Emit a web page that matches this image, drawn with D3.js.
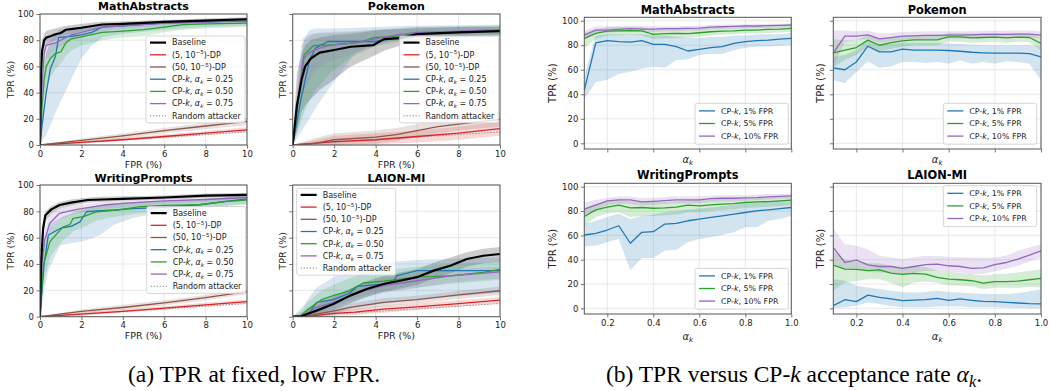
<!DOCTYPE html>
<html>
<head>
<meta charset="utf-8">
<script src="https://cdn.jsdelivr.net/npm/d3@7"></script>
<style>
  body { margin: 0; background: #fff; }
  svg { display: block; font-family: "DejaVu Sans", sans-serif; }
</style>
</head>
<body>
<svg id="chart" width="1050" height="391"></svg>
<script>

// ---------- data: (a) ROC curves, rows are [FPR, TPR, lower, upper] ----------
const fprTicks = [0, 2, 4, 6, 8, 10];
const tprTicks = [0, 20, 40, 60, 80, 100];

const mathBase = [[0,0,0,0],[0.05,55,40,66],[0.1,72,62,80],[0.2,80,72,85],[0.3,82,76,87],[0.5,83,78,88],[0.75,84.5,80,89],[1,85.5,82,90],[1.25,88,84,91],[1.5,88.5,85,91.5],[2,89.5,87,92.5],[3,92,90,94],[4,92.5,91,94.5],[6,94,92.5,95.5],[8,95,93.5,96.5],[10,96,94.5,97.5]];
const mathDp5 = [[0,0,0,0],[2,2,1,3],[4,4,3,5.5],[6,6.5,5,8],[8,9,7.5,10.5],[10,11.5,10,13.5]];
const mathDp50 = [[0,0,0,0],[2,3.5,2,5],[4,7,5,9],[6,11,9,13],[8,14.5,12,17],[10,18,15,21]];
const mathCp25 = [[0,0,0,0],[0.1,15,3,40],[0.3,40,8,70],[0.5,58,15,80],[0.75,68,25,85],[0.9,82,30,88],[1.5,83,50,89],[2,84,66,90],[2.5,86,76,91],[3,90,82,92],[4,91,85,93],[6,93,88,95],[8,94,90,96],[10,94.5,91,97]];
const mathCp50 = [[0,0,0,0],[0.1,30,15,50],[0.2,50,35,65],[0.3,60,45,72],[0.5,66,52,77],[0.75,70,58,79],[1,71,62,81],[1.25,78,68,84],[1.5,81,72,86],[2,82.5,76,88],[3,86,80,90],[4,87,82,91],[5,88,83,92],[6,90,86,93],[7,92,88,94],[8,92.5,89,95],[10,93,90,96]];
const mathCp75 = [[0,0,0,0],[0.1,45,30,60],[0.2,70,55,78],[0.3,76,65,82],[0.5,77,68,84],[0.75,78,72,85],[1,80,75,87],[1.5,84,80,88],[2,86,83,90],[3,90,87,92],[4,91,89,93],[6,93,91,95],[8,94,92,96],[10,95,93,97]];

const pokeBase = [[0,0,0,0],[0.2,30,10,55],[0.43,50,25,70],[0.6,60,30,76],[0.87,66,35,80],[1.3,70.5,42,82],[2,72.5,50,84],[2.8,75,60,85],[3.9,76.3,68,87],[4.4,80.8,72,88],[5.2,81.6,76,88.5],[6,84.6,80,89],[8,86,82,90],[10,87,83,90]];
const pokeDp5 = [[0,0,0,0],[2,2.5,0,7],[4,4,0.5,9],[6,6.5,2,11],[8,9,4,14],[10,12.5,7,18]];
const pokeDp50 = [[0,0,0,0],[1,1,0,5],[2,4,0,9],[4,6,1,11],[5,8,3,13],[6,11,6,16],[7,14,9,19],[8,16,11,21],[10,19.5,14,25]];
const pokeCp25 = [[0,0,0,0],[0.4,35,10,75],[0.8,64,20,88],[1.1,74,28,89],[1.7,79,42,89],[3,79,70,89.5],[4,79,78,90],[4.7,81,79,90.5],[5.5,84,81,91],[6,85,82,91],[8,86.5,83,91.5],[10,87,84,92]];
const pokeCp50 = [[0,0,0,0],[0.55,69,25,80],[1,75.8,40,85],[1.8,76.5,55,85.5],[2.8,77.5,67,86],[3.25,78.3,70,86.5],[3.9,82,75,88],[5.2,83.3,79,89],[6,85,82,90],[8,86.5,83,90.5],[10,87,84,91]];
const pokeCp75 = [[0,0,0,0],[0.5,65,40,82],[0.75,70,48,84],[1,72,55,85],[1.5,75,62,86],[2,76.5,65,86.5],[3,78,70,87],[4,81,76,88],[5,84,80,89],[6,86,82,90],[8,87,83,90.5],[10,88,85,91]];

const writeBase = [[0,0,0,0],[0.05,40,25,55],[0.15,67,58,74],[0.26,77,72,80],[0.55,81.5,78,84],[0.95,84.8,82,87],[1.5,86.6,84,89],[2.3,88.6,86.5,90.5],[3,89,87,91],[4,89.5,88,91.5],[6,90.5,89,92],[8,92,90.5,93.5],[10,92.5,91,94]];
const writeDp5 = [[0,0,0,0],[2,2,1,3],[4,4,3,5.5],[6,6.5,5,8],[8,9,7.5,10.5],[10,11.5,10,13]];
const writeDp50 = [[0,0,0,0],[2,4,2.5,5.5],[4,7,5,9],[6,10.5,8.5,12.5],[8,14.5,12.5,16.5],[10,19,17,21]];
const writeCp25 = [[0,0,0,0],[0.2,40,20,55],[0.4,62,35,70],[0.97,67,54,75],[1.53,68.8,56,78],[1.93,72,57,80],[2.25,79.7,58,82],[2.9,80.5,62,85],[3.6,81,70,86],[4.5,82,75,87],[5.5,82.6,78,87.5],[7.7,85,82,89],[10,89.5,86,92]];
const writeCp50 = [[0,0,0,0],[0.16,39,25,50],[0.48,57,45,66],[1.1,68,58,76],[1.45,70,62,78],[1.6,74.7,65,80],[2.1,76,68,82],[2.74,79.7,73,84.5],[3.7,81,76,86],[4.83,83.5,78.5,87.5],[6,84.5,80,88],[7.7,85,81.5,89],[9,87.5,84,90.5],[10,88.6,85,91]];
const writeCp75 = [[0,0,0,0],[0.1,40,30,52],[0.22,58,50,66],[0.47,71,65,77],[0.95,78.5,74,82],[1.5,80.6,77,84],[2,82,79,85],[3.1,84.8,82,87],[4,86,83,88],[6,88,86,90],[8,89,87,91],[10,90.5,88.5,92]];

const laionBase = [[0,0,0,0],[0.35,0,0,1],[0.6,1.5,0,4],[1.15,4.6,1,9],[1.96,9.6,5,15],[2.77,16,10,21],[3.57,21,15,27],[4.38,24.8,19,31],[5.18,27.3,21.5,33.5],[6,30,24,36],[6.8,35,29,41],[7.6,38.7,33,45],[8.4,43.8,38,49],[9.2,46.3,40.5,51.5],[10,47.6,41.5,53]];
const laionDp5 = [[0,0,0,0],[0.8,0,0,1],[1.15,1,0,2.5],[2,2.5,0.5,4.5],[3,3.5,1.5,6],[4.38,5.8,3,8.5],[6,7.5,5,10],[8,10,7.5,12.5],[10,12.6,10,15]];
const laionDp50 = [[0,0,0,0],[0.5,0,0,1],[1.15,2,0.5,4],[2,4.5,2,7],[2.77,7,4.5,10],[4.38,10.9,8,14],[6,13,10,16],[8,16.5,13.5,19.5],[10,19.7,16.5,23]];
const laionCp25 = [[0,0,0,0],[0.5,1,0,8],[0.8,3,0,15],[1.15,10.9,0,22],[1.96,13,2,30],[2.77,18,6,35],[3.1,23,7,37],[4.38,24.8,10,40.7],[4.9,27.3,11,42],[5,31,11.5,42],[6,35,13,43],[9.2,35,17,44.5],[10,35,18,45]];
const laionCp50 = [[0,0,0,0],[0.4,1,0,4],[0.66,4.6,0,10],[1.4,13,4,20],[2.1,16.8,9,25],[2.7,19.4,12,29],[3.4,25.6,16,33],[4.4,27,19,35],[6,30,22,38],[7.6,31,25,40],[9.2,33.7,27,41],[10,36,28,42]];
const laionCp75 = [[0,0,0,0],[0.5,1,0,4],[1.15,7,3,11],[2,11,7,16],[2.77,16,11,21],[3.5,20,15,25],[4.38,23.6,18,29],[6,27.3,22,33],[7.6,31,26,36],[10,34,29,38]];

const randomAttacker = [[0, 0], [10, 10]];

// ---------- data: (b) TPR vs alpha_k, rows are [TPR, lower, upper] ----------
const alphaGrid = [0.1,0.15,0.2,0.25,0.3,0.35,0.4,0.45,0.5,0.55,0.6,0.65,0.7,0.75,0.8,0.85,0.9,0.95,1.0];
const alphaTicks = [0.2, 0.4, 0.6, 0.8, 1.0];

const mathB1 = [[43.5,36,55],[82,50,88],[83.7,51.6,89],[82.9,56.5,89],[82.6,58.4,89],[83.7,61,89],[80.7,62.5,88],[80.7,61.7,88],[78.8,68,87],[75.3,68.5,86],[76.6,72,86],[78,72.8,87],[78.8,72.8,87],[81.5,76,88],[82.9,78,88],[83.7,78.8,89],[84.2,79,89],[85,79.5,89],[85.6,80,90]];
const mathB5 = [[85.6,78,90],[89.7,85,93],[91.6,88,94.5],[91.8,88,95],[92,88.5,95],[91.8,88,95],[88.9,85,92.5],[89.4,85.5,93],[89.7,86,93],[89.4,86,93],[90.2,87,93.5],[91,88,94],[91.6,88.5,94.5],[91.8,89,94.5],[92.4,89.5,95],[92.4,89.5,95],[93,90,95.5],[93.2,90.5,95.5],[93.8,91,96]];
const mathB10 = [[88.3,84,92],[92.4,90,95],[92.4,90.5,95.5],[93,91,95.5],[93.5,91.5,95.5],[93.2,91,95.5],[93.2,91,95.5],[93.5,91.5,95.5],[93.5,91.5,95.5],[93.8,92,95.8],[94,92,96],[94.8,93,96.5],[95.1,93.5,96.8],[95.4,93.5,97],[95.7,94,97.2],[95.7,94,97.2],[96,94.5,97.5],[96.2,94.5,97.6],[96.5,95,97.8]];

const pokeB1 = [[61.5,51.4,70.5],[60,49.2,72],[66.4,58.2,76],[79.2,67,84],[74.6,61.5,81],[74.6,62.8,81.4],[76.8,66.4,82],[76,66.4,82],[76,65.6,82],[76,66.4,82],[75.7,65,81.5],[75.1,67.8,81],[74.3,65,80.5],[73.8,66.4,80],[73.5,65,80],[73.5,67,80],[73.5,66.4,80],[73.2,65,80],[70.5,51.4,78.7]];
const pokeB5 = [[73.8,62,85],[76,68,84],[78.1,72,84],[84.2,79,88.5],[80,75,85],[82.2,77,86.5],[83.6,79,87.5],[84.4,80,88],[84.4,80,88],[84.4,80,88],[86.9,83,90],[86.9,83,90],[86,82,89.5],[86.3,82.5,89.5],[86.6,83,90],[86,82,89.5],[86.6,83,90],[86.3,82.5,89.5],[81.4,76,86]];
const pokeB10 = [[73.8,62,92],[87.4,83,92],[87.4,84,91.5],[88.5,85,92],[85.2,82,89.5],[86.3,83,90],[87.4,84,91],[87.7,84.5,91],[88,85,91.5],[88,85,91.5],[88.3,85.5,91.5],[88.3,85.5,91.5],[88.5,85.5,91.5],[88.8,86,91.8],[88.8,86,91.8],[88.8,86,91.8],[89,86.5,92],[89,86.5,92],[88.3,85.5,91.5]];

const writeB1 = [[60.3,50.8,69.3],[61.7,51.6,72],[64.4,54.3,75],[67.9,57,78],[53.5,31.3,73.4],[62.5,41.3,76],[63,41.3,77],[69.3,47.6,79],[69.8,48,80],[72,54.3,81],[73.4,57,82],[74.7,58.4,83],[76,60.3,84],[77.4,62.5,85],[78.8,66.6,86],[80.2,66.6,87],[81,72,88],[82,73.4,88],[82.9,76,88]];
const writeB5 = [[75.5,68,82],[81,75,86],[83.2,78,88],[84.8,79,89],[82.6,75,88],[82.9,76,88],[82.3,76,87.5],[82.6,76.5,87.5],[83.2,77,88],[84.8,79,89],[84.2,79,89],[85,80,89.5],[85.6,81,90],[86.1,81.5,90],[87,82.5,90.5],[87.5,83,91],[87.8,83.5,91],[88.3,84,91.5],[88.9,85,92]];
const writeB10 = [[81.5,76,87],[84.8,81,89],[88.3,85,91],[89.1,86,92],[89.1,86,92],[87.5,84.5,90.5],[88,85,91],[88.6,86,91.5],[89.1,86.5,92],[89.1,86.5,92],[89.1,86.5,92],[90.2,87.5,92.5],[90.5,88,93],[90.5,88,93],[90.8,88.5,93],[91,89,93.5],[91.6,89.5,94],[92.1,90,94],[92.4,90.5,94.5]];

const laionB1 = [[2.2,0,24],[7.1,0.8,22.7],[5.5,2.2,18.6],[10.9,4.9,17.2],[9,3.5,16],[7.7,2,14.5],[6.3,0.8,13.5],[6.8,1,13],[7.1,1,13.5],[8.2,1.5,14.5],[6.6,1.5,13.5],[7.7,1.5,13],[6.6,0.8,12.5],[5.7,0.8,11.7],[5.5,0.8,11.7],[4.9,0.5,11.7],[4.4,0.3,12.5],[3.8,0,14],[3.6,0,15.8]];
const laionB5 = [[35.5,14.5,47],[32.2,21.3,40],[32,22.7,38],[31,24,37],[31.7,24,37],[29,21,35],[27.9,17.2,34],[28.7,21.3,34.5],[28.1,22,34],[25.4,21,31],[24,19,30],[23.5,18.5,29],[22.7,18,28],[20.8,16,27],[21.9,17,28],[21.9,17,28.5],[22.4,17,29.5],[23.5,17.5,31],[24.6,17.2,32.2]];
const laionB10 = [[50,36.3,65.6],[37.7,32.2,52.7],[39.6,33,51.4],[35.8,30,48.6],[34.4,29.5,43.2],[34.4,29.5,42],[32.8,28,40.4],[34.4,29.5,42],[36,31,43.2],[36.3,31,43],[35,30,42.5],[34.4,29.5,42],[32.8,28,41.8],[33.3,28.5,41.8],[36,30.5,41.8],[37.7,32.5,43.5],[40.4,35,47.3],[43.7,38.5,50],[47.3,41.8,52.7]];

// ---------- labels ----------
const rocLegend = [
    [{t: "Baseline"}],
    [{t: "(5, 10"}, {t: "\u22125", sup: true}, {t: ")-DP"}],
    [{t: "(50, 10"}, {t: "\u22125", sup: true}, {t: ")-DP"}],
    [{t: "CP-"}, {t: "k", it: true}, {t: ", "}, {t: "\u03b1", it: true}, {t: "k", it: true, sub: true}, {t: " = 0.25"}],
    [{t: "CP-"}, {t: "k", it: true}, {t: ", "}, {t: "\u03b1", it: true}, {t: "k", it: true, sub: true}, {t: " = 0.50"}],
    [{t: "CP-"}, {t: "k", it: true}, {t: ", "}, {t: "\u03b1", it: true}, {t: "k", it: true, sub: true}, {t: " = 0.75"}],
    [{t: "Random attacker"}]
];
const alphaLegend = [
    [{t: "CP-"}, {t: "k", it: true}, {t: ", 1% FPR"}],
    [{t: "CP-"}, {t: "k", it: true}, {t: ", 5% FPR"}],
    [{t: "CP-"}, {t: "k", it: true}, {t: ", 10% FPR"}]
];
const alphaLabel = [{t: "\u03b1", it: true}, {t: "k", it: true, sub: true}];

const rocColors = ["#000000", "#d62728", "#8c564b", "#1f77b4", "#2ca02c", "#9467bd", "#7f7f7f"];
const alphaColors = ["#1f77b4", "#2ca02c", "#9467bd"];

const svg = d3.select("#chart");
const frameColor = "#555";

// write text made of plain / italic / sub / sup parts
function rich(sel, parts, fs) {
    let shift = 0;
    parts.forEach(p => {
        let ts = sel.append("tspan").text(p.t);
        let target = p.sub ? fs * 0.22 : (p.sup ? -fs * 0.42 : 0);
        if (target !== shift) ts.attr("dy", target - shift);
        shift = target;
        if (p.it) ts.attr("font-style", "italic");
        if (p.sub || p.sup) ts.attr("font-size", fs * 0.7);
    });
}

function makePanel(cfg) {
    let g = svg.append("g");
    let x = d3.scaleLinear().domain(cfg.xDomain).range([cfg.left, cfg.right]);
    let y = d3.scaleLinear().domain(cfg.yDomain).range([cfg.bottom, cfg.top]);

    svg.append("clipPath").attr("id", "clip-" + cfg.id)
        .append("rect")
        .attr("x", cfg.left).attr("y", cfg.top)
        .attr("width", cfg.right - cfg.left).attr("height", cfg.bottom - cfg.top);

    // grid
    g.selectAll(".gx").data(cfg.xTicks).join("line")
        .attr("x1", d => x(d)).attr("x2", d => x(d))
        .attr("y1", cfg.top).attr("y2", cfg.bottom)
        .attr("stroke", "#e3e3e3").attr("stroke-width", 0.8);
    g.selectAll(".gy").data(cfg.yTicks).join("line")
        .attr("y1", d => y(d)).attr("y2", d => y(d))
        .attr("x1", cfg.left).attr("x2", cfg.right)
        .attr("stroke", "#e3e3e3").attr("stroke-width", 0.8);

    let plot = g.append("g").attr("clip-path", `url(#clip-${cfg.id})`);

    // axes
    let xa = g.append("g").attr("transform", `translate(0,${cfg.bottom})`)
        .call(d3.axisBottom(x).tickValues(cfg.xTicks).tickSize(3.5).tickPadding(2)
            .tickFormat(cfg.xLabels ? cfg.xFormat : ""));
    let ya = g.append("g").attr("transform", `translate(${cfg.left},0)`)
        .call(d3.axisLeft(y).tickValues(cfg.yTicks).tickSize(3.5).tickPadding(2.5)
            .tickFormat(cfg.yLabels ? d3.format("d") : ""));
    [xa, ya].forEach(a => {
        a.attr("font-family", "DejaVu Sans").attr("font-size", 8.5);
        a.select(".domain").remove();
        a.selectAll("line").attr("stroke", frameColor).attr("stroke-width", 0.8);
        a.selectAll("text").attr("fill", "#222");
    });

    // title and axis labels
    g.append("text")
        .attr("x", (cfg.left + cfg.right) / 2).attr("y", cfg.titleY)
        .attr("text-anchor", "middle").attr("font-weight", "bold")
        .attr("font-size", cfg.titleSize).attr("fill", "#000")
        .text(cfg.title);
    let xl = g.append("text")
        .attr("x", (cfg.left + cfg.right) / 2).attr("y", cfg.xLabelY)
        .attr("text-anchor", "middle").attr("font-size", cfg.labelSize).attr("fill", "#222");
    rich(xl, cfg.xLabel, cfg.labelSize);
    g.append("text")
        .attr("transform", `translate(${cfg.yLabelX},${(cfg.top + cfg.bottom) / 2}) rotate(-90)`)
        .attr("text-anchor", "middle").attr("font-size", cfg.labelSize).attr("fill", "#222")
        .text("TPR (%)");

    return {g, x, y, plot, cfg};
}

function drawFrame(p) {
    let c = p.cfg;
    p.g.append("rect")
        .attr("x", c.left).attr("y", c.top)
        .attr("width", c.right - c.left).attr("height", c.bottom - c.top)
        .attr("fill", "none").attr("stroke", frameColor).attr("stroke-width", 1);
}

function drawLegend(g, lx, ly, w, labels, colors, styles, step, first, fs) {
    let h = first * 2 + step * (labels.length - 1) + 0.5;
    g.append("rect")
        .attr("x", lx).attr("y", ly).attr("width", w).attr("height", h)
        .attr("rx", 2).attr("fill", "#fff").attr("fill-opacity", 0.8)
        .attr("stroke", "#cccccc").attr("stroke-width", 0.8);
    labels.forEach((parts, i) => {
        let cy = ly + first + i * step;
        let s = styles[i];
        g.append("line")
            .attr("x1", lx + 4).attr("x2", lx + 20).attr("y1", cy).attr("y2", cy)
            .attr("stroke", colors[i]).attr("stroke-width", s.w)
            .attr("stroke-dasharray", s.dash || null);
        let t = g.append("text")
            .attr("x", lx + 26).attr("y", cy + fs * 0.36)
            .attr("font-size", fs).attr("fill", "#222");
        rich(t, parts, fs);
    });
}

// ---------- (a) ROC panels ----------
const rocStyles = [{w: 2.2}, {w: 1.3}, {w: 1.3}, {w: 1.3}, {w: 1.3}, {w: 1.3}, {w: 1, dash: "1.2,1.8"}];

const rocPanels = [
    {id: "ma", title: "MathAbstracts", left: 40, right: 247, top: 14, bottom: 145, yLabels: true,
     titleY: 10, xLabelY: 167.5, yLabelX: 14, legX: 146, legY: 36,
     series: [mathBase, mathDp5, mathDp50, mathCp25, mathCp50, mathCp75]},
    {id: "pk", title: "Pokemon", left: 292.7, right: 500, top: 14, bottom: 145, yLabels: false,
     titleY: 10, xLabelY: 167.5, yLabelX: 286, legX: 399.5, legY: 36,
     series: [pokeBase, pokeDp5, pokeDp50, pokeCp25, pokeCp50, pokeCp75]},
    {id: "wp", title: "WritingPrompts", left: 40, right: 247, top: 185, bottom: 316.7, yLabels: true,
     titleY: 181.5, xLabelY: 339, yLabelX: 14, legX: 146.7, legY: 206.5,
     series: [writeBase, writeDp5, writeDp50, writeCp25, writeCp50, writeCp75]},
    {id: "lm", title: "LAION-MI", left: 292.7, right: 500, top: 185, bottom: 316.7, yLabels: false,
     titleY: 181.5, xLabelY: 339, yLabelX: 286, legX: 296.7, legY: 188.3,
     series: [laionBase, laionDp5, laionDp50, laionCp25, laionCp50, laionCp75]}
];

rocPanels.forEach(pc => {
    let p = makePanel(Object.assign({
        xDomain: [0, 10], yDomain: [0, 100], xTicks: fprTicks, yTicks: tprTicks,
        xLabels: true, xFormat: d3.format("d"), titleSize: 11, labelSize: 9.5,
        xLabel: [{t: "FPR (%)"}]
    }, pc));

    let area = d3.area().x(d => p.x(d[0])).y0(d => p.y(d[2])).y1(d => p.y(d[3]));
    let line = d3.line().x(d => p.x(d[0])).y(d => p.y(d[1]));

    pc.series.forEach((s, i) => {
        p.plot.append("path").datum(s).attr("d", area)
            .attr("fill", rocColors[i]).attr("fill-opacity", i === 0 ? 0.2 : 0.18);
    });
    p.plot.append("path").datum(randomAttacker).attr("d", line)
        .attr("fill", "none").attr("stroke", rocColors[6]).attr("stroke-width", 1)
        .attr("stroke-dasharray", "1.2,1.8");
    [1, 2, 3, 4, 5, 0].forEach(i => {
        p.plot.append("path").datum(pc.series[i]).attr("d", line)
            .attr("fill", "none").attr("stroke", rocColors[i])
            .attr("stroke-width", rocStyles[i].w).attr("stroke-linejoin", "round");
    });
    drawFrame(p);
    drawLegend(p.g, pc.legX, pc.legY, 99, rocLegend, rocColors, rocStyles, 12.2, 6.6, 8);
});

// ---------- (b) TPR vs alpha_k panels ----------
const alphaPanels = [
    {id: "mb", title: "MathAbstracts", left: 584.3, right: 791.3, top: 17.3, bottom: 149, yLabels: true, xLabels: false,
     titleY: 13.5, xLabelY: 163, yLabelX: 556, legX: 695, legY: 103.3,
     series: [mathB1, mathB5, mathB10]},
    {id: "pb", title: "Pokemon", left: 833.3, right: 1041, top: 17.3, bottom: 149, yLabels: false, xLabels: false,
     titleY: 13.5, xLabelY: 163, yLabelX: 824, legX: 943.3, legY: 103.3,
     series: [pokeB1, pokeB5, pokeB10]},
    {id: "wb", title: "WritingPrompts", left: 584.3, right: 791.3, top: 183.3, bottom: 314, yLabels: true, xLabels: true,
     titleY: 178.8, xLabelY: 340, yLabelX: 556, legX: 695, legY: 268.3,
     series: [writeB1, writeB5, writeB10]},
    {id: "lb", title: "LAION-MI", left: 833.3, right: 1041, top: 183.3, bottom: 314, yLabels: false, xLabels: true,
     titleY: 178.8, xLabelY: 340, yLabelX: 824, legX: 943.3, legY: 185.7,
     series: [laionB1, laionB5, laionB10]}
];

alphaPanels.forEach(pc => {
    let p = makePanel(Object.assign({
        xDomain: [0.1, 1.0], yDomain: [-4.65, 102.8], xTicks: alphaTicks, yTicks: tprTicks,
        xFormat: d3.format(".1f"), titleSize: 11.4, labelSize: 10, xLabel: alphaLabel
    }, pc));

    let area = d3.area().x((d, i) => p.x(alphaGrid[i])).y0(d => p.y(d[1])).y1(d => p.y(d[2]));
    let line = d3.line().x((d, i) => p.x(alphaGrid[i])).y(d => p.y(d[0]));

    pc.series.forEach((s, i) => {
        p.plot.append("path").datum(s).attr("d", area)
            .attr("fill", alphaColors[i]).attr("fill-opacity", 0.2);
    });
    pc.series.forEach((s, i) => {
        p.plot.append("path").datum(s).attr("d", line)
            .attr("fill", "none").attr("stroke", alphaColors[i])
            .attr("stroke-width", 1.3).attr("stroke-linejoin", "round");
    });
    drawFrame(p);
    drawLegend(p.g, pc.legX, pc.legY, 93.3, alphaLegend, alphaColors,
        [{w: 1.3}, {w: 1.3}, {w: 1.3}], 12.6, 7.6, 7.9);
});

// ---------- captions ----------
const capA = svg.append("text")
    .attr("x", 254).attr("y", 382).attr("text-anchor", "middle")
    .attr("font-family", "Liberation Serif").attr("font-size", 23.5).attr("fill", "#000");
rich(capA, [{t: "(a) TPR at fixed, low FPR."}], 23.5);

const capB = svg.append("text")
    .attr("x", 794).attr("y", 382).attr("text-anchor", "middle")
    .attr("font-family", "Liberation Serif").attr("font-size", 23.5).attr("fill", "#000");
rich(capB, [{t: "(b) TPR versus CP-"}, {t: "k", it: true}, {t: " acceptance rate "},
    {t: "\u03b1", it: true}, {t: "k", it: true, sub: true}, {t: "."}], 23.5);

</script>
</body>
</html>
